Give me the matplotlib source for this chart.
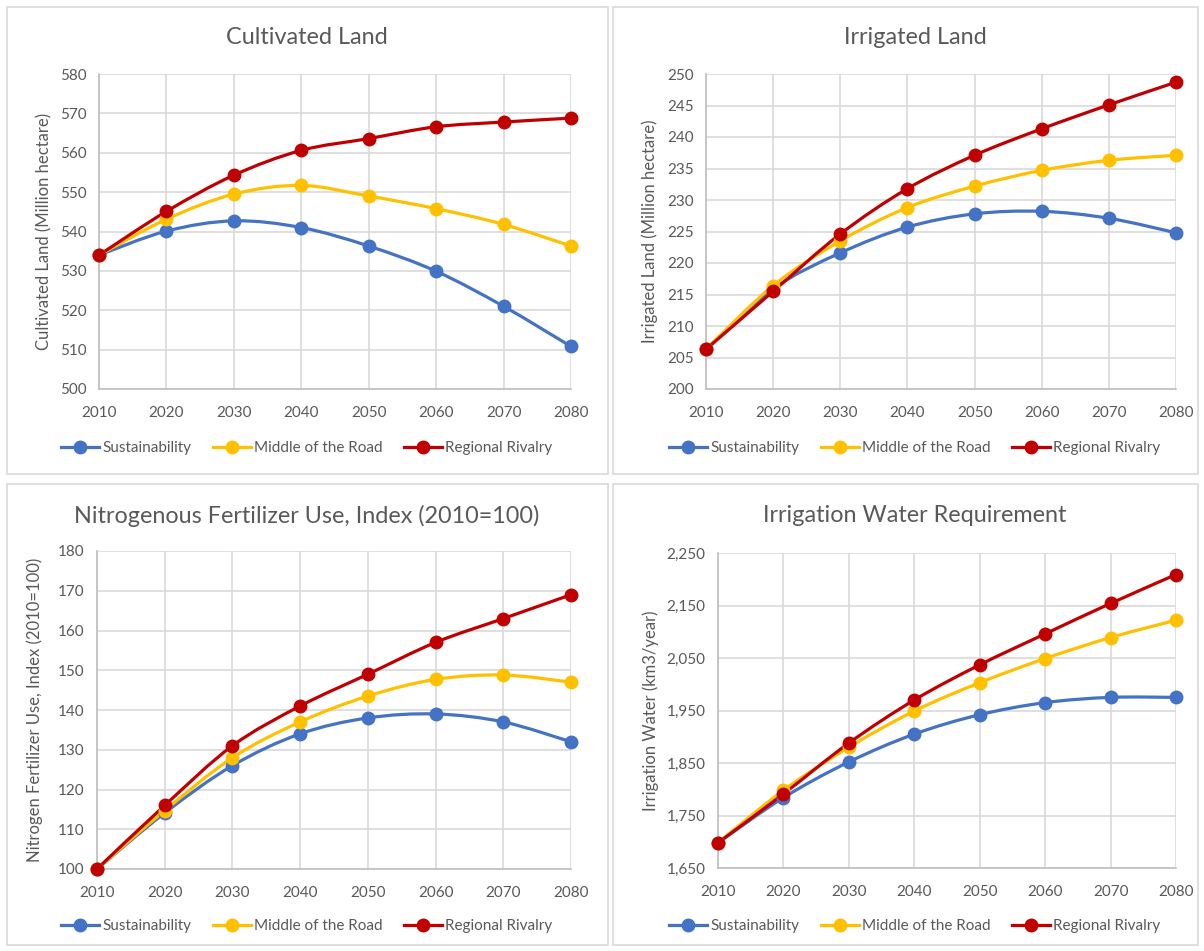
import numpy as np
import matplotlib.pyplot as plt
from matplotlib.path import Path
from matplotlib.patches import PathPatch, Rectangle
from matplotlib.lines import Line2D
from matplotlib.ticker import FuncFormatter

plt.rcParams['font.family'] = ['Lato', 'DejaVu Sans']

# ---- data ----
years = [2010, 2020, 2030, 2040, 2050, 2060, 2070, 2080]
scenarios = ["Sustainability", "Middle of the Road", "Regional Rivalry"]
colors = ["#4472C4", "#FFC000", "#C00000"]

cultivated_sust = [534, 540.1, 542.7, 541.0, 536.3, 529.9, 521.0, 510.8]
cultivated_mor = [534, 543.1, 549.5, 551.7, 549.0, 545.8, 541.8, 536.3]
cultivated_rr = [534, 545.1, 554.3, 560.6, 563.6, 566.6, 567.8, 568.8]

irrigated_sust = [206.3, 215.9, 221.6, 225.7, 227.8, 228.2, 227.1, 224.8]
irrigated_mor = [206.3, 216.4, 223.5, 228.8, 232.2, 234.7, 236.3, 237.1]
irrigated_rr = [206.3, 215.5, 224.6, 231.8, 237.1, 241.3, 245.1, 248.7]

nitrogen_sust = [100, 114.1, 126.0, 134.0, 138.0, 139.0, 137.0, 132.0]
nitrogen_mor = [100, 114.7, 128.0, 137.0, 143.5, 147.7, 148.8, 147.0]
nitrogen_rr = [100, 116.0, 131.0, 141.0, 149.0, 157.0, 163.0, 169.0]

water_sust = [1698, 1784, 1852, 1905, 1942, 1965, 1975, 1975]
water_mor = [1698, 1798, 1880, 1949, 2003, 2049, 2089, 2122]
water_rr = [1698, 1791, 1888, 1970, 2037, 2096, 2154, 2209]

TEXT = "#595959"
GRID = "#D9D9D9"
W, H = 1204, 951


def smooth_path(x, y):
    # Catmull-Rom style bezier smoothing between the points
    x = np.asarray(x, float)
    y = np.asarray(y, float)
    pts = np.column_stack([x, y])
    n = len(pts)
    verts = [pts[0]]
    codes = [Path.MOVETO]
    for i in range(n - 1):
        p0 = pts[i - 1] if i > 0 else pts[i]
        p1 = pts[i]
        p2 = pts[i + 1]
        p3 = pts[i + 2] if i + 2 < n else pts[i + 1]
        c1 = p1 + (p2 - p0) / 6.0
        c2 = p2 - (p3 - p1) / 6.0
        verts += [c1, c2, p2]
        codes += [Path.CURVE4] * 3
    return Path(verts, codes)


def fig_box(left, top, right, bottom):
    return [left / W, 1 - bottom / H, (right - left) / W, (bottom - top) / H]


panels = [
    dict(title="Cultivated Land", ylabel="Cultivated Land (Million hectare)",
         series=[cultivated_sust, cultivated_mor, cultivated_rr],
         ylim=(500, 580), step=10, box=(7, 7, 608, 474),
         axes=(99, 74, 571, 389), cx=307, ty=38, ly=448, lx=44, comma=False),
    dict(title="Irrigated Land", ylabel="Irrigated Land (Million hectare)",
         series=[irrigated_sust, irrigated_mor, irrigated_rr],
         ylim=(200, 250), step=5, box=(613, 7, 1198, 474),
         axes=(706, 74, 1176, 389), cx=915, ty=38, ly=448, lx=650, comma=False),
    dict(title="Nitrogenous Fertilizer Use, Index (2010=100)",
         ylabel="Nitrogen Fertilizer Use, Index (2010=100)",
         series=[nitrogen_sust, nitrogen_mor, nitrogen_rr],
         ylim=(100, 180), step=10, box=(7, 484, 608, 945),
         axes=(97, 551, 571, 869), cx=307, ty=516, ly=926, lx=35, comma=False),
    dict(title="Irrigation Water Requirement", ylabel="Irrigation Water (km3/year)",
         series=[water_sust, water_mor, water_rr],
         ylim=(1650, 2250), step=100, box=(613, 484, 1198, 945),
         axes=(718, 553, 1176, 868), cx=915, ty=516, ly=926, lx=651, comma=True),
]

fig = plt.figure(figsize=(W / 100, H / 100), dpi=100)

for p in panels:
    bl, bt, br, bb = p["box"]
    fig.patches.append(Rectangle((bl / W, 1 - bb / H), (br - bl) / W, (bb - bt) / H,
                                 transform=fig.transFigure, fill=False,
                                 edgecolor=GRID, linewidth=1.2))
    al, at, ar, ab = p["axes"]
    ax = fig.add_axes(fig_box(al, at, ar, ab))
    ax.set_xlim(years[0], years[-1])
    ax.set_ylim(*p["ylim"])
    ax.set_xticks(years)
    ax.set_yticks(np.arange(p["ylim"][0], p["ylim"][1] + p["step"] / 2, p["step"]))
    if p["comma"]:
        ax.yaxis.set_major_formatter(FuncFormatter(lambda v, _: f"{v:,.0f}"))
    ax.grid(True, color=GRID, linewidth=1.2)
    ax.set_axisbelow(True)
    for s in ["top", "right"]:
        ax.spines[s].set_visible(False)
    for s in ["left", "bottom"]:
        ax.spines[s].set_color("#BFBFBF")
        ax.spines[s].set_linewidth(1.2)
    ax.tick_params(length=0, labelsize=11, labelcolor=TEXT)
    ax.tick_params(axis="x", pad=12)
    ax.tick_params(axis="y", pad=9)

    handles = []
    for vals, name, col in zip(p["series"], scenarios, colors):
        ax.add_patch(PathPatch(smooth_path(years, vals), fill=False,
                               edgecolor=col, linewidth=2.3, zorder=3,
                               clip_on=False, capstyle="round"))
        ax.plot(years, vals, linestyle="none", marker="o", markersize=9,
                color=col, zorder=4, clip_on=False)
        handles.append(Line2D([], [], color=col, linewidth=2.3, marker="o",
                              markersize=9, label=name))

    ax.set_ylabel(p["ylabel"], fontsize=12, color=TEXT, va="center")
    ax.yaxis.set_label_coords((p["lx"] - al) / (ar - al), 0.5)

    fig.text(p["cx"] / W, 1 - p["ty"] / H, p["title"], ha="center", va="center",
             fontsize=16.8, color=TEXT)
    fig.legend(handles=handles, loc="center", ncol=3, frameon=False,
               bbox_to_anchor=(p["cx"] / W, 1 - p["ly"] / H),
               bbox_transform=fig.transFigure, fontsize=11, labelcolor=TEXT,
               handlelength=2.5, handletextpad=0.2, columnspacing=1.4)

fig.savefig("out.png", dpi=100)
